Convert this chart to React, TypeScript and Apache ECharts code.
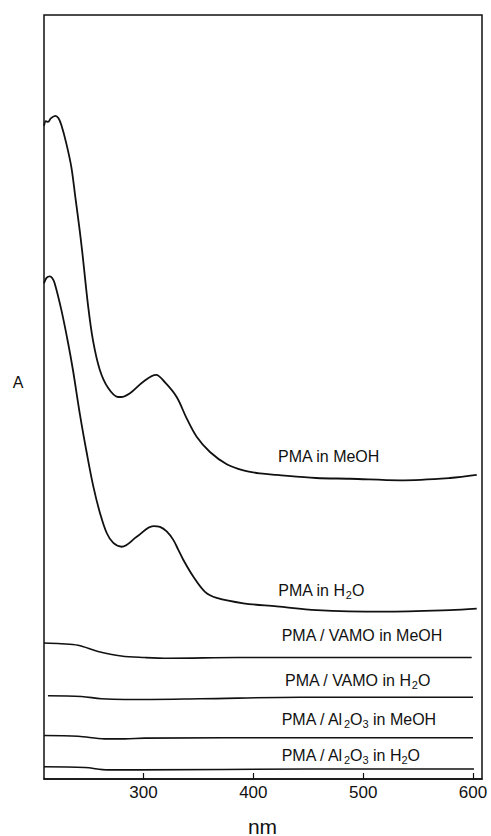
import React, { useEffect, useRef } from 'react';
import * as echarts from 'echarts';

// x axis (wavelength, nm)
const xMin = 209.4;
const xMax = 608.2;
const xTickValues = [300, 400, 500, 600];

// PMA in MeOH
const meohNm = [209.4, 211.2, 213, 215.8, 219.7, 222.6, 225.2, 229.7, 234.3, 237.9, 241.9, 244.3, 249.5, 254, 260.1, 267.7, 276.8, 279.5, 287.7, 299.8, 311.4, 319.6, 330.2, 339.3, 348.4, 360.5, 375.8, 390.9, 406.1, 421.3, 457.1, 488, 533.5, 579.1, 603.4];
const meohA = [85.5, 86.1, 86.0, 86.5, 86.8, 86.5, 85.6, 83.2, 80.1, 76.2, 71.8, 68.9, 62.0, 57.4, 53.6, 51.2, 50.0, 50.0, 50.5, 52.0, 52.9, 51.9, 50.0, 47.2, 44.8, 42.8, 41.2, 40.4, 40.0, 39.8, 39.4, 39.3, 39.1, 39.4, 39.8];

// PMA in H2O
const h2oNm = [209.4, 211.7, 214.6, 216.7, 219.1, 225.2, 231.3, 235.8, 241.9, 248.3, 254.3, 260.4, 266.5, 272.5, 280.2, 293.8, 308.9, 315.0, 321.1, 327.1, 331.7, 336.2, 345.3, 356.0, 366.6, 390.9, 421.3, 457.7, 518.1, 579.1, 603.4];
const h2oA = [64.9, 65.6, 65.8, 65.6, 64.9, 61.4, 57.1, 53.5, 47.9, 42.7, 38.3, 34.8, 32.2, 30.9, 30.4, 31.7, 33.1, 33.0, 32.4, 31.3, 30.0, 28.7, 26.5, 24.5, 23.7, 23.0, 22.6, 22.1, 21.9, 22.1, 22.3];

// PMA / VAMO in MeOH
const vamoMeohNm = [209.4, 225, 240.4, 258.6, 279.8, 301.1, 322.3, 386.0, 488, 598.8];
const vamoMeohA = [17.8, 17.7, 17.5, 16.7, 16.1, 15.9, 15.8, 15.9, 15.9, 15.9];

// PMA / VAMO in H2O
const vamoH2oNm = [213.0, 243.4, 261.6, 282.9, 351.4, 442.5, 600.0];
const vamoH2oA = [10.9, 10.8, 10.5, 10.4, 10.5, 10.7, 10.7];

// PMA / Al2O3 in MeOH
const alMeohNm = [209.4, 240.4, 264.7, 282.9, 301.1, 450, 600.0];
const alMeohA = [5.7, 5.6, 5.25, 5.25, 5.35, 5.4, 5.4];

// PMA / Al2O3 in H2O
const alH2oNm = [209.4, 246.5, 267.7, 295.0, 450, 600.9];
const alH2oA = [1.6, 1.5, 1.2, 1.2, 1.3, 1.3];

const curveLabels = [
  'PMA in MeOH',
  'PMA in H{s|2}O',
  'PMA / VAMO in MeOH',
  'PMA / VAMO in H{s|2}O',
  'PMA / Al{s|2}O{s|3} in MeOH',
  'PMA / Al{s|2}O{s|3} in H{s|2}O',
];

const FONT = "'Liberation Sans', Arial, Helvetica, sans-serif";
const INK = '#111';

const zip = (xs: number[], ys: number[]) => xs.map((x, i) => [x, ys[i]]);

export default function App() {
  const ref = useRef<HTMLDivElement>(null);

  useEffect(() => {
    if (!ref.current) return;
    const chart = echarts.init(ref.current, null, { renderer: 'svg' });

    const seriesData = [
      zip(meohNm, meohA),
      zip(h2oNm, h2oA),
      zip(vamoMeohNm, vamoMeohA),
      zip(vamoH2oNm, vamoH2oA),
      zip(alMeohNm, alMeohA),
      zip(alH2oNm, alH2oA),
    ];

    const labelPos = [
      [278, 456],
      [278.3, 590],
      [281.7, 635],
      [285, 680],
      [281.7, 719.3],
      [281.7, 755],
    ];

    const labelGraphics = curveLabels.map((t, i) => ({
      type: 'text',
      x: labelPos[i][0],
      y: labelPos[i][1],
      silent: true,
      style: {
        text: t,
        fontSize: 16,
        fontFamily: FONT,
        fill: INK,
        verticalAlign: 'middle',
        align: 'left',
        lineHeight: 20,
        rich: {
          s: {
            fontSize: 11,
            fontFamily: FONT,
            fill: INK,
            lineHeight: 10,
            verticalAlign: 'bottom',
          },
        },
      },
    }));

    chart.setOption({
      animation: false,
      backgroundColor: '#fff',
      grid: {
        left: 44,
        right: 9,
        top: 15,
        bottom: 57,
        show: true,
        borderColor: INK,
        borderWidth: 1.5,
        backgroundColor: 'transparent',
      },
      xAxis: {
        type: 'value',
        min: xMin,
        max: xMax,
        axisLine: { show: true, lineStyle: { color: INK, width: 1.5 } },
        axisTick: {
          show: true,
          inside: true,
          length: 6,
          customValues: xTickValues,
          lineStyle: { color: INK, width: 1.2 },
        },
        axisLabel: {
          show: true,
          customValues: xTickValues,
          margin: 5,
          fontSize: 17,
          fontFamily: FONT,
          color: INK,
        },
        splitLine: { show: false },
      },
      yAxis: {
        type: 'value',
        min: 0,
        max: 100,
        axisLine: { show: false },
        axisTick: { show: false },
        axisLabel: { show: false },
        splitLine: { show: false },
      },
      series: seriesData.map((d, i) => ({
        type: 'line',
        data: d,
        showSymbol: false,
        smooth: 0.35,
        lineStyle: { color: INK, width: i < 2 ? 1.8 : 1.6 },
        silent: true,
      })),
      graphic: [
        ...labelGraphics,
        {
          type: 'text',
          x: 18,
          y: 382.5,
          silent: true,
          style: {
            text: 'A',
            fontSize: 16,
            fontFamily: FONT,
            fill: INK,
            align: 'center',
            verticalAlign: 'middle',
          },
        },
        {
          type: 'text',
          x: 262.5,
          y: 826,
          silent: true,
          style: {
            text: 'nm',
            fontSize: 21,
            fontFamily: FONT,
            fill: INK,
            align: 'center',
            verticalAlign: 'middle',
          },
        },
      ],
    });

    return () => chart.dispose();
  }, []);

  return (
    <div
      ref={ref}
      style={{ position: 'fixed', left: 0, top: 0, width: 491, height: 836 }}
    />
  );
}
